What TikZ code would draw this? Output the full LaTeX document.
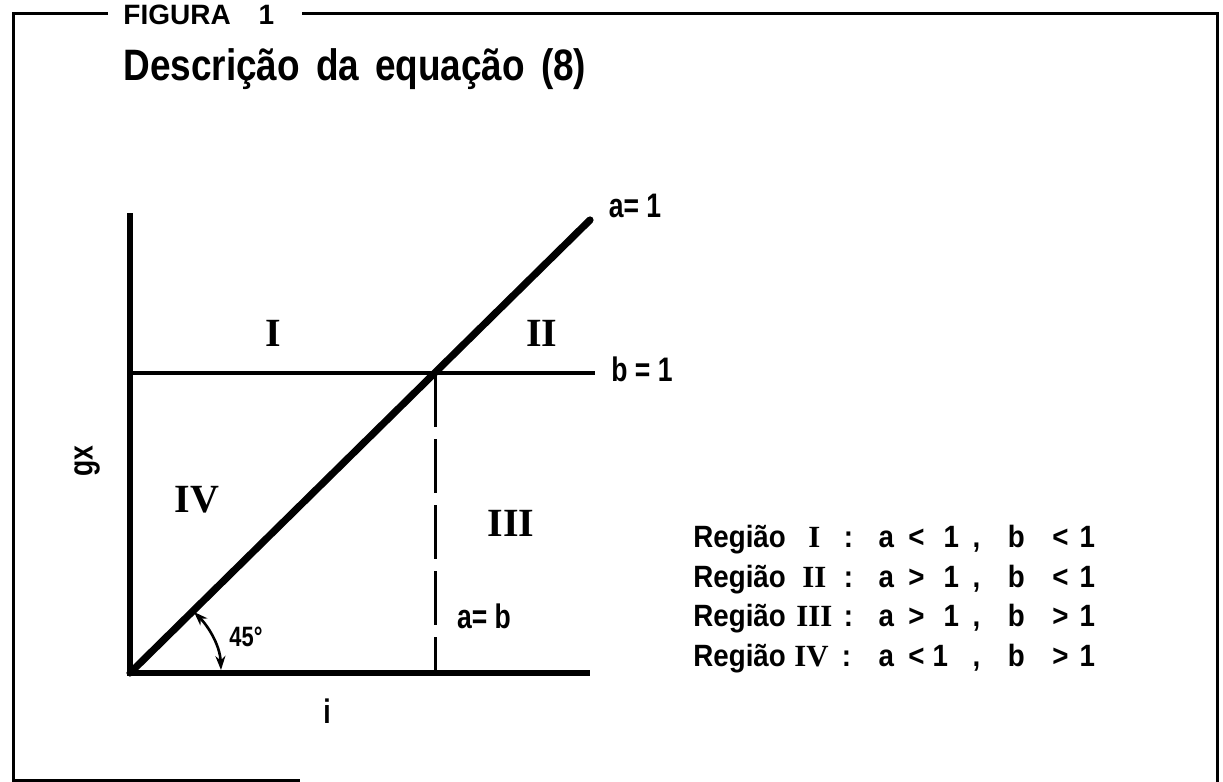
\documentclass[tikz,border=0pt]{standalone}
\usepackage{fontspec}
\setmainfont{Liberation Sans}
\newfontfamily\figfont[FakeStretch=0.78]{Liberation Sans}
\newfontfamily\headfont[FakeStretch=0.84]{Liberation Sans}
\newfontfamily\listfont[FakeStretch=0.9]{Liberation Sans}
\newfontfamily\romfont{Liberation Serif}
\usetikzlibrary{arrows.meta}
\newcommand\tok[2]{\rlap{\hspace*{#1}\makebox[0pt]{#2}}}
\tikzset{
  frame/.style={line width=1.5pt},
  axis/.style={line width=2.6pt},
  diag/.style={line width=3.6pt, line cap=round},
  guide/.style={line width=2pt},
  dashguide/.style={line width=1.5pt, dash pattern=on 27pt off 6pt},
  anglearrow/.style={line width=1.3pt, {Stealth[length=7pt,width=5pt]}-{Stealth[length=7pt,width=5pt]}},
  lbl/.style={inner sep=0pt, font=\figfont\bfseries\fontsize{17}{20}\selectfont},
  roman/.style={inner sep=0pt, font=\romfont\bfseries\fontsize{20}{24}\selectfont},
  listtxt/.style={inner sep=0pt, anchor=base west, font=\listfont\bfseries\fontsize{15.4}{18}\selectfont},
  titletxt/.style={inner sep=0pt, anchor=base west, font=\headfont\bfseries\fontsize{22}{26}\selectfont},
  figtxt/.style={inner sep=0pt, anchor=base west, font=\bfseries\fontsize{14}{16}\selectfont}
}
\begin{document}
\begin{tikzpicture}[x=0.5pt,y=-0.5pt]
\useasboundingbox (0,0) rectangle (1223,782);
% frame
\coordinate (FL1) at (13,13);
\coordinate (FL2) at (108,13);
\coordinate (FR1) at (302,13);
\coordinate (FR2) at (1217,13);
\coordinate (FR3) at (1217,782);
\coordinate (FB1) at (13,780);
\coordinate (FB2) at (300,780);
\draw[frame] (FL2) -- (FL1) -- (FB1) -- (FB2);
\draw[frame] (FR1) -- (FR2) -- (FR3);
\node[figtxt] (fig) at (123,24) {FIGURA\hspace{14pt}1};
\node[titletxt] (title) at (123,80) {Descrição\hspace{8pt}da\hspace{8pt}equação\hspace{8pt}(8)};
% axes
\coordinate (O) at (130,673);
\coordinate (Ytop) at (130,213);
\coordinate (Xend) at (590,673);
\coordinate (B0) at (130,373);
\coordinate (Bend) at (595,373);
\coordinate (P) at (435,373);
\coordinate (Pfoot) at (435,673);
\coordinate (Dend) at (590,220);
\draw[axis] (Ytop) -- (O) -- (Xend);
\draw[guide] (B0) -- (Bend);
\draw[dashguide] (P) -- (Pfoot);
\draw[diag] (O) -- (Dend);
% 45 degree arrow
\coordinate (A1) at (194,612);
\coordinate (A2) at (221,670);
\draw[anglearrow] (A1) .. controls (208,626) and (220,645) .. (A2);
\node[inner sep=0pt, font=\figfont\bfseries\fontsize{14}{16}\selectfont] (deg) at (246,637) {45°};
% labels
\node[lbl] (a1) at (635,206) {a= 1};
\node[lbl] (b1) at (642,369) {b = 1};
\node[lbl] (ab) at (484,616) {a= b};
\node[lbl, rotate=90] (gx) at (87,461) {gx};
\node[lbl] (i) at (327,711) {i};
\node[roman] (rI) at (273,333) {I};
\node[roman] (rII) at (542,333) {II};
\node[roman] (rIII) at (511,523) {III};
\node[roman] (rIV) at (197,500) {IV};
% region list
\newcommand\rn[1]{{\romfont\bfseries #1}}
\node[listtxt] (l1) at (692,547) {\rlap{Região}\tok{60.5pt}{\rn{I}}\tok{77.5pt}{:}\tok{96.5pt}{a}\tok{111.5pt}{<}\tok{129pt}{1}\tok{141.5pt}{,}\tok{161.5pt}{b}\tok{183.5pt}{<}\tok{197pt}{1}};
\node[listtxt] (l2) at (692,587) {\rlap{Região}\tok{60.5pt}{\rn{II}}\tok{77.5pt}{:}\tok{96.5pt}{a}\tok{111.5pt}{>}\tok{129pt}{1}\tok{141.5pt}{,}\tok{161.5pt}{b}\tok{183.5pt}{<}\tok{197pt}{1}};
\node[listtxt] (l3) at (692,626) {\rlap{Região}\tok{60.5pt}{\rn{III}}\tok{77.5pt}{:}\tok{96.5pt}{a}\tok{111.5pt}{>}\tok{129pt}{1}\tok{141.5pt}{,}\tok{161.5pt}{b}\tok{183.5pt}{>}\tok{197pt}{1}};
\node[listtxt] (l4) at (692,666) {\rlap{Região}\tok{59pt}{\rn{IV}}\tok{76.5pt}{:}\tok{96.5pt}{a}\tok{111.5pt}{<}\tok{123.5pt}{1}\tok{141.5pt}{,}\tok{161.5pt}{b}\tok{183.5pt}{>}\tok{197pt}{1}};
\end{tikzpicture}
\end{document}
